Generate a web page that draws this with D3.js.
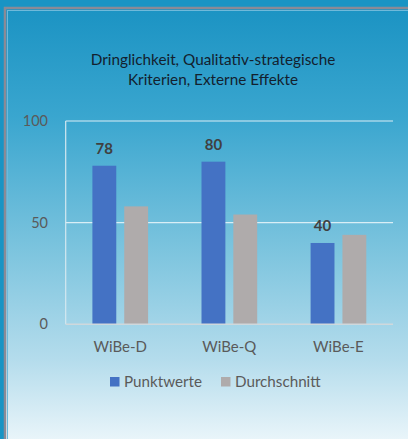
<!DOCTYPE html>
<html>
<head>
<meta charset="utf-8">
<script src="https://cdn.jsdelivr.net/npm/d3@7"></script>
<style>
  body { margin: 0; overflow: hidden; }
  svg { display: block; }
</style>
</head>
<body>
<div id="chart"></div>
<script>
let categories = ['WiBe-D', 'WiBe-Q', 'WiBe-E'];
let series_names = ['Punktwerte', 'Durchschnitt'];
let punktwerte = [78, 80, 40];
let durchschnitt = [58, 54, 44];
let y_ticks = [0, 50, 100];
let title_lines = ['Dringlichkeit, Qualitativ-strategische', 'Kriterien, Externe Effekte'];

let chart_width = 408;
let chart_height = 439;
let colors = ['#4472c4', '#afabab'];
let font = 'Lato, "Open Sans", sans-serif';

let svg = d3
  .select('#chart')
  .append('svg')
  .attr('width', chart_width)
  .attr('height', chart_height);

// background gradient
let defs = svg.append('defs');
let grad = defs
  .append('linearGradient')
  .attr('id', 'bg')
  .attr('x1', 0).attr('y1', 0)
  .attr('x2', 0).attr('y2', 1);
grad.append('stop').attr('offset', '0%').attr('stop-color', '#1b93c3');
grad.append('stop').attr('offset', '25%').attr('stop-color', '#3aa6cf');
grad.append('stop').attr('offset', '55%').attr('stop-color', '#7cc4de');
grad.append('stop').attr('offset', '80%').attr('stop-color', '#b4dcec');
grad.append('stop').attr('offset', '100%').attr('stop-color', '#eef7fb');

svg.append('rect')
  .attr('width', chart_width)
  .attr('height', chart_height)
  .attr('fill', '#1994c4');

svg.append('rect')
  .attr('x', 5)
  .attr('y', 8)
  .attr('width', chart_width)
  .attr('height', chart_height)
  .attr('fill', 'url(#bg)')
  .attr('stroke', '#8a8a96')
  .attr('stroke-width', 2.5);

svg.append('rect')
  .attr('x', 7.5)
  .attr('y', 10.5)
  .attr('width', chart_width)
  .attr('height', chart_height)
  .attr('fill', 'none')
  .attr('stroke', '#6fb9da')
  .attr('stroke-width', 1);

// title
svg.append('text')
  .attr('x', 213)
  .attr('y', 65)
  .attr('text-anchor', 'middle')
  .attr('font-family', font)
  .attr('font-size', 15.3)
  .attr('fill', '#13212e')
  .selectAll('tspan')
  .data(title_lines)
  .enter()
  .append('tspan')
  .attr('x', 213)
  .attr('dy', (d, i) => (i === 0 ? 0 : 20))
  .text(d => d);

let plot_left = 65.7, plot_right = 393, plot_top = 121, plot_bottom = 324.3;

let x_scale = d3.scaleBand()
  .domain(categories)
  .range([plot_left, plot_right])
  .paddingInner(0)
  .paddingOuter(0);

let y_scale = d3.scaleLinear()
  .domain([0, 100])
  .range([plot_bottom, plot_top]);

let group_w = 55.7;
let x_inner = d3.scaleBand()
  .domain(series_names)
  .range([0, group_w])
  .paddingInner(0.25);

// gridlines
svg.append('g')
  .selectAll('line')
  .data(y_ticks.filter(d => d > 0))
  .enter()
  .append('line')
  .attr('x1', plot_left)
  .attr('x2', plot_right)
  .attr('y1', d => y_scale(d))
  .attr('y2', d => y_scale(d))
  .attr('stroke', '#d9eef6')
  .attr('stroke-width', 1.2);

// left line
svg.append('line')
  .attr('x1', plot_left).attr('x2', plot_left)
  .attr('y1', plot_top).attr('y2', plot_bottom)
  .attr('stroke', '#d4e8f0')
  .attr('stroke-width', 1.2);

// y tick labels
svg.append('g')
  .selectAll('text')
  .data(y_ticks)
  .enter()
  .append('text')
  .attr('x', 48)
  .attr('y', d => y_scale(d) + 5)
  .attr('text-anchor', 'end')
  .attr('font-family', font)
  .attr('font-size', 14.5)
  .attr('fill', '#5a5a5a')
  .text(d => d);

// bars
let series = [punktwerte, durchschnitt];
let groups = svg.append('g')
  .selectAll('g')
  .data(categories)
  .enter()
  .append('g')
  .attr('transform', d => 'translate(' + (x_scale(d) + (x_scale.bandwidth() - group_w) / 2) + ',0)');

groups.selectAll('rect')
  .data((d, i) => series_names.map((s, j) => ({ s: s, v: series[j][i], j: j })))
  .enter()
  .append('rect')
  .attr('x', d => x_inner(d.s))
  .attr('y', d => y_scale(d.v))
  .attr('width', x_inner.bandwidth())
  .attr('height', d => plot_bottom - y_scale(d.v))
  .attr('fill', d => colors[d.j]);

// value labels for Punktwerte
groups.append('text')
  .datum((d, i) => punktwerte[i])
  .attr('x', x_inner('Punktwerte') + x_inner.bandwidth() / 2)
  .attr('y', d => y_scale(d) - 12)
  .attr('text-anchor', 'middle')
  .attr('font-family', font)
  .attr('font-size', 15)
  .attr('font-weight', 'bold')
  .attr('fill', '#404040')
  .text(d => d);

// baseline
svg.append('line')
  .attr('x1', plot_left).attr('x2', plot_right)
  .attr('y1', plot_bottom).attr('y2', plot_bottom)
  .attr('stroke', '#cfd8dc')
  .attr('stroke-width', 1.5);

// category labels
svg.append('g')
  .selectAll('text')
  .data(categories)
  .enter()
  .append('text')
  .attr('x', d => x_scale(d) + x_scale.bandwidth() / 2)
  .attr('y', 352)
  .attr('text-anchor', 'middle')
  .attr('font-family', font)
  .attr('font-size', 15)
  .attr('fill', '#5a5a5a')
  .text(d => d);

// legend
let legend_x = [110, 221];
let legend = svg.append('g')
  .selectAll('g')
  .data(series_names)
  .enter()
  .append('g')
  .attr('transform', (d, i) => 'translate(' + legend_x[i] + ',377)');
legend.append('rect')
  .attr('width', 9.5)
  .attr('height', 9.5)
  .attr('fill', (d, i) => colors[i]);
legend.append('text')
  .attr('x', 14)
  .attr('y', 10)
  .attr('font-family', font)
  .attr('font-size', 15.2)
  .attr('fill', '#5a5a5a')
  .text(d => d);
</script>
</body>
</html>
